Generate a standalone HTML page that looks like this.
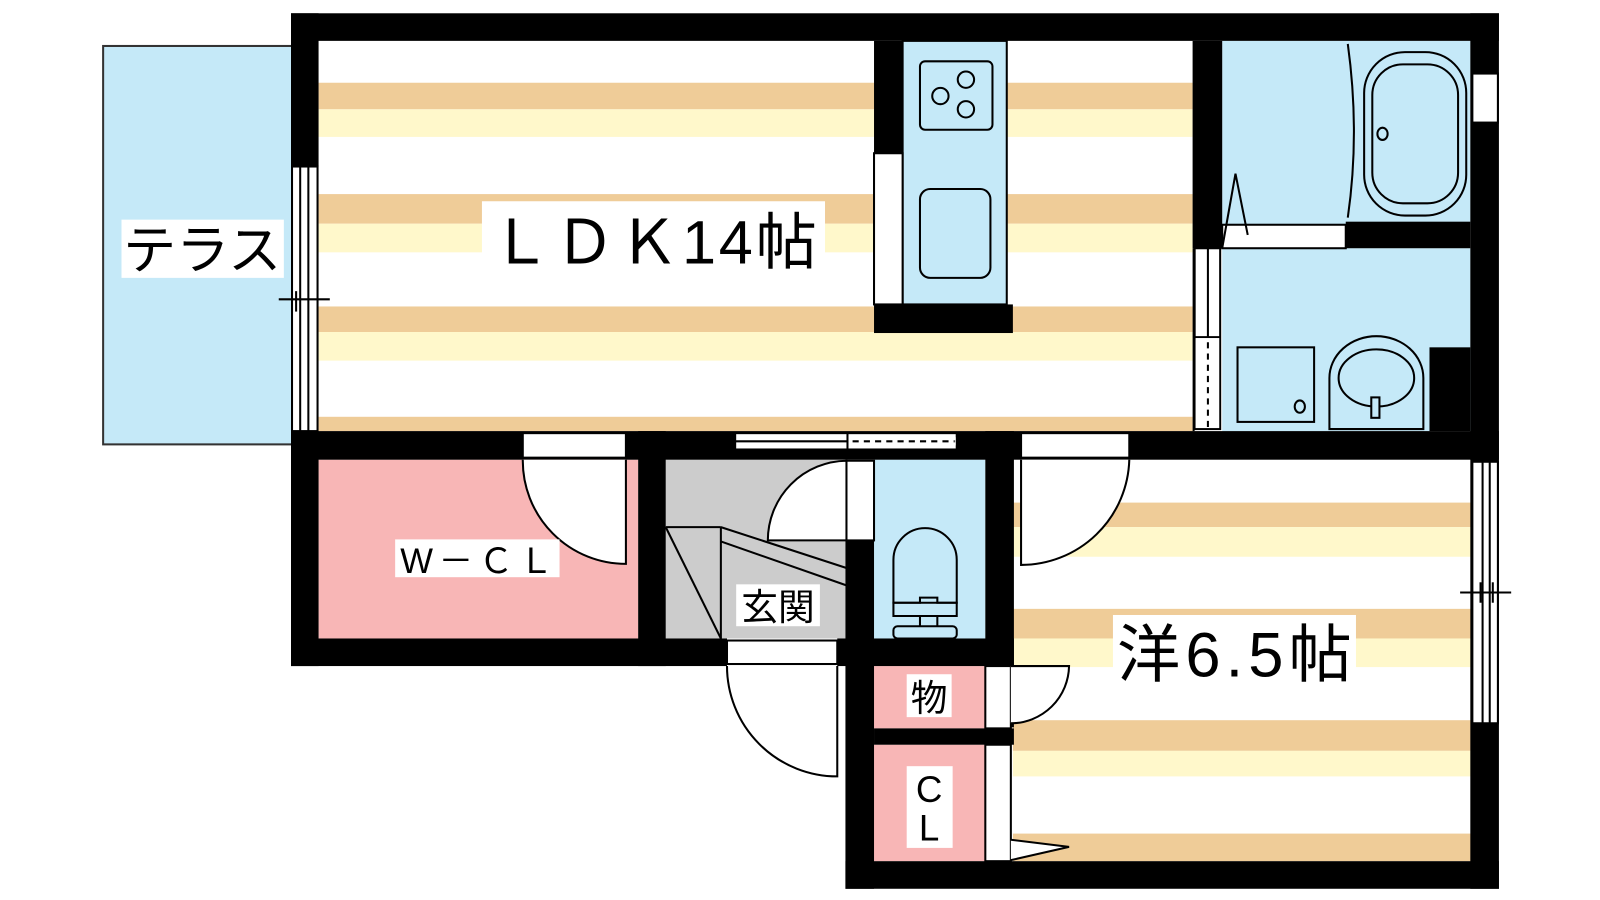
<!DOCTYPE html>
<html><head><meta charset="utf-8"><style>
html,body{margin:0;padding:0;background:#fff;width:1600px;height:900px;overflow:hidden}
svg{display:block}
text{font-family:"Liberation Sans","Noto Sans CJK JP",sans-serif;fill:#000}
</style></head><body>
<svg width="1600" height="900" viewBox="0 0 1567 881" preserveAspectRatio="none" xmlns="http://www.w3.org/2000/svg">
<rect width="1567" height="881" fill="#fff"/>
<!-- terrace -->
<rect x="101" y="45" width="185" height="390" fill="#c5e9f8" stroke="#333" stroke-width="2"/>
<!-- LDK stripes -->
<g>
<rect x="312" y="81" width="856" height="26" fill="#efcc98"/><rect x="312" y="107" width="856" height="27" fill="#fff8cb"/>
<rect x="312" y="190" width="856" height="29" fill="#efcc98"/><rect x="312" y="219" width="856" height="28" fill="#fff8cb"/>
<rect x="312" y="300" width="856" height="25" fill="#efcc98"/><rect x="312" y="325" width="856" height="28" fill="#fff8cb"/>
<rect x="312" y="408" width="856" height="14" fill="#efcc98"/>
</g>
<!-- bedroom stripes -->
<g>
<rect x="992" y="492" width="449" height="24" fill="#efcc98"/><rect x="992" y="516" width="449" height="29" fill="#fff8cb"/>
<rect x="992" y="596" width="449" height="29" fill="#efcc98"/><rect x="992" y="625" width="449" height="28" fill="#fff8cb"/>
<rect x="992" y="705" width="449" height="30" fill="#efcc98"/><rect x="992" y="735" width="449" height="25" fill="#fff8cb"/>
<rect x="992" y="816" width="449" height="27" fill="#efcc98"/>
</g>
<!-- rooms -->
<rect x="312" y="450" width="313" height="175" fill="#f8b6b6"/>
<rect x="652" y="450" width="176" height="175" fill="#cccccc"/>
<rect x="856" y="450" width="109" height="175" fill="#c5e9f8"/>
<rect x="856" y="652" width="109" height="61" fill="#f8b6b6"/>
<rect x="856" y="729" width="109" height="114" fill="#f8b6b6"/>
<rect x="1197" y="40" width="243" height="180" fill="#c5e9f8"/>
<rect x="1197" y="243" width="243" height="179" fill="#c5e9f8"/>
<rect x="884" y="40" width="102" height="258" fill="#c5e9f8" stroke="#000" stroke-width="2"/>
<!-- walls -->
<g fill="#000">
<rect x="285" y="13" width="1183" height="27"/>
<rect x="285" y="13" width="27" height="150"/>
<rect x="285" y="422" width="27" height="230"/>
<rect x="1440" y="13" width="28" height="857"/>
<rect x="285" y="422" width="1183" height="28"/>
<rect x="625" y="422" width="27" height="230"/>
<rect x="285" y="625" width="427" height="27"/>
<rect x="820" y="625" width="173" height="27"/>
<rect x="828" y="529" width="28" height="341"/>
<rect x="965" y="422" width="28" height="290"/>
<rect x="856" y="713" width="137" height="16"/>
<rect x="828" y="843" width="640" height="27"/>
<rect x="856" y="40" width="28" height="110"/>
<rect x="856" y="298" width="136" height="28"/>
<rect x="1168" y="40" width="29" height="203"/>
<rect x="1168" y="243" width="2" height="179"/>
<rect x="1318" y="217" width="122" height="26"/>
<rect x="1400" y="340" width="40" height="82"/>
</g>
<!-- openings in walls -->
<g fill="#fff" stroke="#000" stroke-width="2">
<rect x="512" y="424" width="101" height="24"/>
<rect x="720" y="424" width="217" height="16"/>
<rect x="1000" y="424" width="106" height="24"/>
<rect x="712" y="627" width="108" height="23"/>
<rect x="286" y="163" width="25" height="259"/>
<rect x="1442" y="452" width="25" height="256"/>
<rect x="1442" y="72" width="25" height="48"/>
<rect x="1170" y="243" width="25" height="177"/>
<rect x="856" y="150" width="28" height="148"/>
<rect x="1197" y="220" width="121" height="23"/>
<rect x="829" y="451" width="27" height="78"/>
<rect x="965" y="652" width="25" height="61"/>
<rect x="965" y="729" width="25" height="114"/>
</g>
<g stroke="#000" stroke-width="2" fill="none">
<line x1="294" y1="163" x2="294" y2="422"/><line x1="302" y1="163" x2="302" y2="422"/>
<line x1="1452" y1="452" x2="1452" y2="708"/><line x1="1459" y1="452" x2="1459" y2="708"/>
<line x1="273" y1="293" x2="323" y2="293"/><line x1="290" y1="285" x2="290" y2="305"/>
<line x1="1430" y1="580" x2="1480" y2="580"/><line x1="1450" y1="570" x2="1450" y2="590"/><line x1="1462" y1="570" x2="1462" y2="590"/>
<line x1="720" y1="432" x2="937" y2="432"/>
<line x1="830" y1="424" x2="830" y2="440"/>
<line x1="1183" y1="243" x2="1183" y2="330"/>
<line x1="1170" y1="330" x2="1195" y2="330"/>
</g>
<rect x="831" y="428" width="105" height="8" fill="#fff"/>
<line x1="835" y1="432" x2="935" y2="432" stroke="#000" stroke-width="2" stroke-dasharray="6,5"/>
<rect x="1171" y="331" width="23" height="88" fill="#fff"/>
<line x1="1183" y1="335" x2="1183" y2="418" stroke="#000" stroke-width="2" stroke-dasharray="6,5"/>
<!-- doors -->
<g stroke="#000" stroke-width="2" fill="#fff">
<path d="M613 450 L613 552 A101 101 0 0 1 512 450"/>
<path d="M1000 450 L1000 553 A106 106 0 0 0 1106 450"/>
<path d="M820 652 L820 760 A108 108 0 0 1 712 652"/>
<path d="M829 451 L829 529 L752 529 A78 78 0 0 1 829 451 Z"/>
<path d="M990 708 A57 57 0 0 0 1047 652 L990 652"/>
<path d="M990 822 L1047 829 L990 842"/>
<path d="M1197 243 L1210 170 L1222 230" fill="none"/>
</g>
<!-- genkan step -->
<g stroke="#000" stroke-width="2" fill="none">
<line x1="652" y1="516" x2="706" y2="516"/>
<line x1="706" y1="516" x2="829" y2="556"/>
<line x1="706" y1="530" x2="829" y2="573"/>
<line x1="706" y1="516" x2="706" y2="625"/>
<line x1="652" y1="516" x2="706" y2="625"/>
</g>
<!-- kitchen -->
<g stroke="#000" stroke-width="2" fill="none">
<rect x="901" y="60" width="71" height="67" rx="5"/>
<rect x="901" y="185" width="69" height="87" rx="10"/>
<circle cx="921" cy="94" r="8"/><circle cx="946" cy="78" r="8"/><circle cx="946" cy="107" r="8"/>
</g>
<!-- bath -->
<g stroke="#000" stroke-width="2" fill="none">
<path d="M1320 43 Q1332 130 1320 213"/>
<rect x="1336" y="51" width="100" height="160" rx="40"/>
<rect x="1344" y="63" width="84" height="136" rx="30"/>
<ellipse cx="1354" cy="131" rx="5" ry="6"/>
<rect x="1212" y="340" width="75" height="73"/>
<ellipse cx="1273" cy="398" rx="5" ry="6"/>
<path d="M1302 420 L1302 370 A45 40 0 0 1 1394 370 L1394 420 Z"/>
<ellipse cx="1348" cy="370" rx="37" ry="28"/>
<rect x="1343" y="389" width="8" height="20" fill="#c5e9f8"/>
</g>
<!-- toilet -->
<g stroke="#000" stroke-width="2" fill="none">
<path d="M875 590 L875 548 A31 31 0 0 1 937 548 L937 590 Z"/>
<path d="M875 590 L901 590 L901 585 L918 585 L918 590 L937 590 L937 603 L875 603 Z"/>
<rect x="875" y="613" width="62" height="12" rx="4"/>
<line x1="901" y1="603" x2="901" y2="613"/><line x1="918" y1="603" x2="918" y2="613"/>
</g>
<!-- labels -->
<rect x="119" y="215" width="159" height="57" fill="#fff"/>
<text x="198" y="263" font-size="52" text-anchor="middle">テラス</text>
<rect x="472" y="197" width="336" height="65" fill="#fff"/>
<text x="640" y="258" font-size="60" text-anchor="middle" textLength="320">ＬＤＫ14帖</text>
<rect x="387" y="528" width="161" height="37" fill="#fff"/>
<text x="467" y="561" font-size="34" text-anchor="middle" textLength="150">W－ＣＬ</text>
<rect x="721" y="572" width="82" height="41" fill="#fff"/>
<text x="762" y="607" font-size="36" text-anchor="middle">玄関</text>
<rect x="1090" y="602" width="238" height="65" fill="#fff"/>
<text x="1209" y="662" font-size="62" text-anchor="middle" textLength="230">洋6.5帖</text>
<rect x="888" y="660" width="44" height="42" fill="#fff"/>
<text x="910" y="696" font-size="36" text-anchor="middle">物</text>
<rect x="888" y="750" width="45" height="80" fill="#fff"/>
<text x="910" y="785" font-size="36" text-anchor="middle">C</text>
<text x="910" y="823" font-size="36" text-anchor="middle">L</text>
</svg>
</body></html>
